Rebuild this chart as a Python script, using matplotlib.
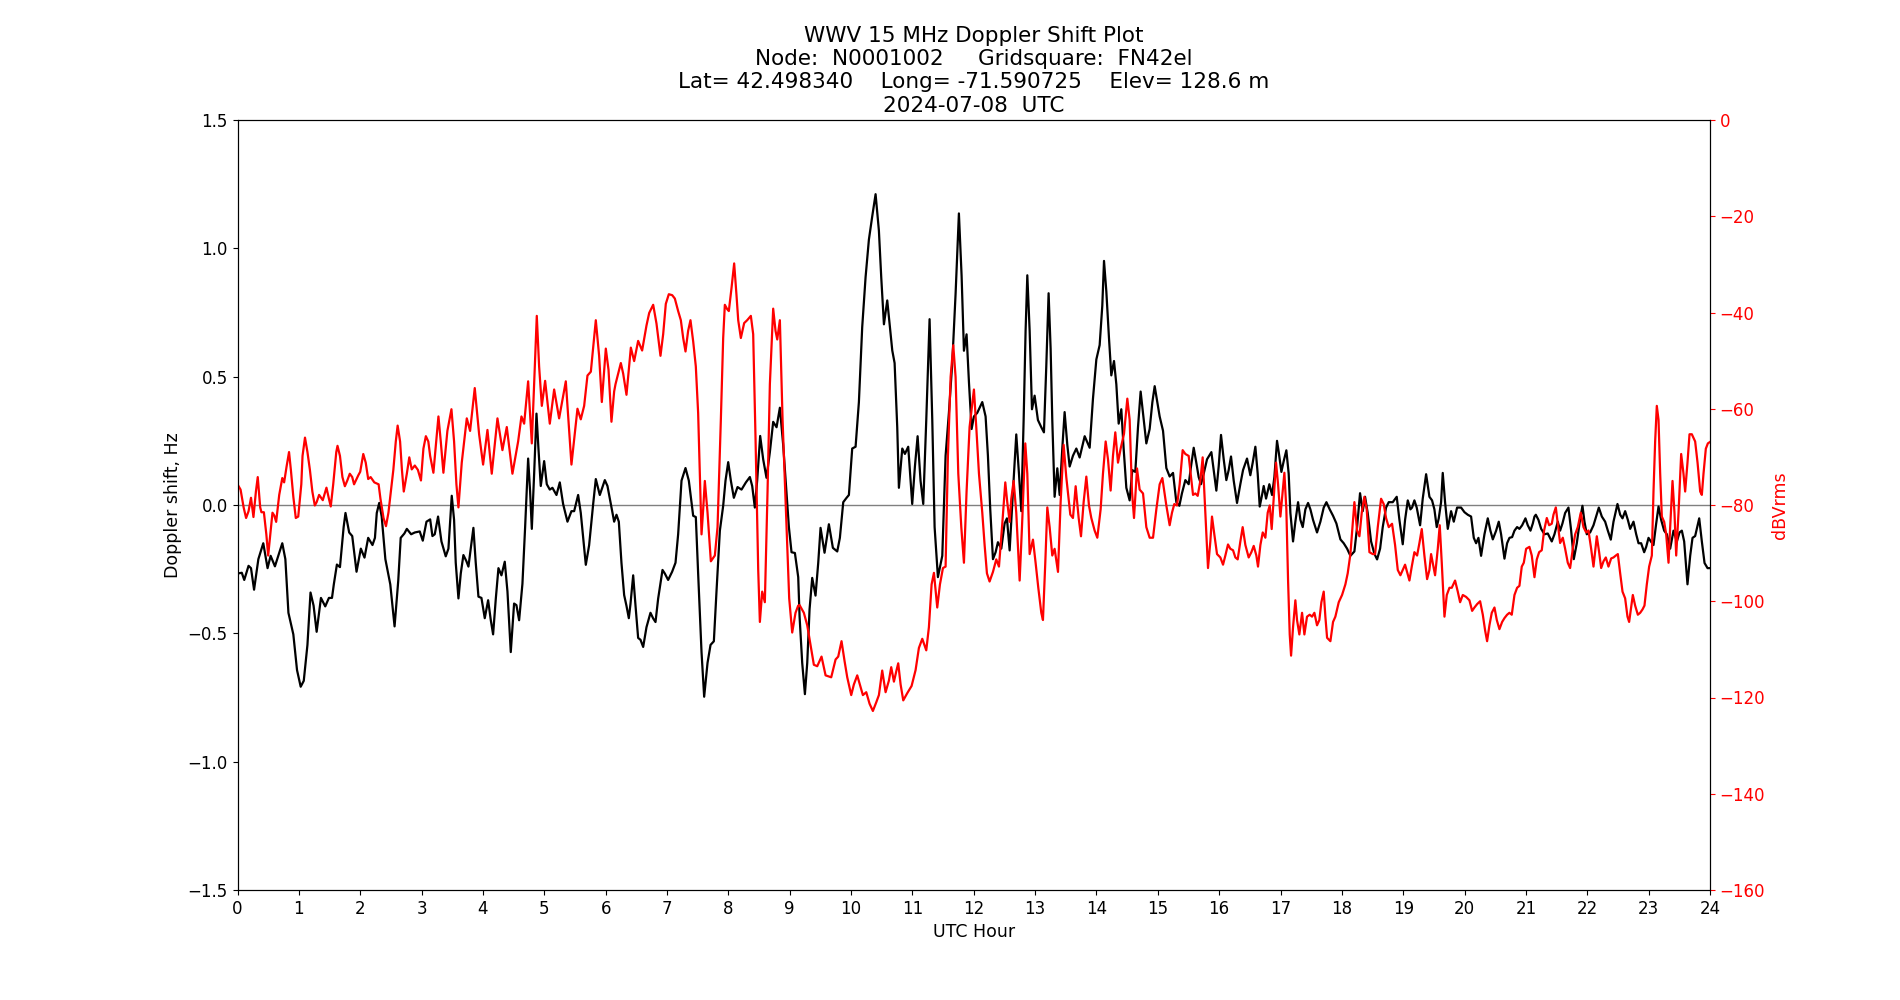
import matplotlib
matplotlib.use("Agg")
import matplotlib.pyplot as plt

# Doppler shift (Hz) vs UTC hour
dop_hour = [
    0.00, 0.07, 0.11, 0.18, 0.22, 0.27, 0.34, 0.42, 0.49, 0.54, 0.61, 0.73, 0.78, 0.83, 0.87, 0.91,
    0.97, 1.03, 1.08, 1.14, 1.19, 1.24, 1.29, 1.36, 1.43, 1.49, 1.54, 1.57, 1.62, 1.67, 1.73, 1.76,
    1.82, 1.87, 1.94, 2.01, 2.07, 2.13, 2.20, 2.24, 2.27, 2.31, 2.35, 2.41, 2.49, 2.56, 2.62, 2.66,
    2.72, 2.76, 2.83, 2.89, 2.97, 3.02, 3.08, 3.14,
    3.177, 3.215, 3.269, 3.324, 3.394, 3.438, 3.492, 3.530, 3.557, 3.601, 3.639, 3.682, 3.731, 3.764,
    3.845, 3.883, 3.927, 3.976, 4.030, 4.085, 4.128, 4.166, 4.210, 4.253, 4.302, 4.356, 4.400, 4.454,
    4.508, 4.546, 4.590, 4.644, 4.688, 4.737, 4.769, 4.797, 4.835, 4.873, 4.905, 4.943, 4.998, 5.041,
    5.090, 5.133, 5.199, 5.253, 5.307, 5.378, 5.443, 5.487, 5.552, 5.595, 5.677, 5.731, 5.797, 5.840,
    5.905, 5.987, 6.030, 6.085, 6.139,
    6.177, 6.215, 6.258, 6.302, 6.340, 6.378, 6.405, 6.449, 6.487, 6.530, 6.568, 6.612, 6.666, 6.731,
    6.775, 6.813, 6.856, 6.927, 6.965, 7.019, 7.084, 7.139, 7.182, 7.237, 7.302, 7.356, 7.427, 7.470,
    7.508, 7.563, 7.606, 7.661, 7.710, 7.764, 7.807, 7.862, 7.916, 7.954, 7.998, 8.041, 8.090, 8.150,
    8.215, 8.286, 8.351, 8.389, 8.432, 8.470, 8.519, 8.568, 8.622, 8.677, 8.731, 8.786, 8.840, 8.894,
    8.938, 8.987, 9.030, 9.085, 9.139,
    9.161, 9.204, 9.248, 9.286, 9.324, 9.367, 9.421, 9.465, 9.503, 9.568, 9.639, 9.704, 9.775, 9.818,
    9.873, 9.927, 9.965, 10.019, 10.074, 10.128, 10.182, 10.237, 10.291, 10.345, 10.400, 10.454,
    10.492, 10.536, 10.590, 10.628, 10.672, 10.710, 10.753, 10.780, 10.835, 10.878, 10.932, 10.997,
    11.041, 11.085, 11.133, 11.177, 11.226, 11.280, 11.324, 11.362, 11.416, 11.487, 11.541, 11.595,
    11.650, 11.704, 11.758, 11.802, 11.840, 11.883, 11.922, 11.965, 12.003, 12.057, 12.139,
    12.193, 12.231, 12.269, 12.313, 12.356, 12.394, 12.449, 12.503, 12.541, 12.585, 12.639, 12.693,
    12.737, 12.775, 12.813, 12.845, 12.873, 12.911, 12.949, 12.992, 13.046, 13.101, 13.144, 13.182,
    13.220, 13.253, 13.280, 13.318, 13.362, 13.400, 13.443, 13.481, 13.525, 13.563, 13.617, 13.672,
    13.726, 13.808, 13.889, 13.943, 13.998, 14.052, 14.095, 14.123, 14.161, 14.204, 14.242, 14.286,
    14.324, 14.362, 14.405, 14.443, 14.487, 14.541, 14.584, 14.633, 14.677, 14.720, 14.758, 14.813,
    14.867, 14.911, 14.949, 14.992, 15.030, 15.085, 15.139,
    15.193, 15.248, 15.302, 15.351, 15.394, 15.449, 15.503, 15.541, 15.585, 15.628, 15.666, 15.704,
    15.748, 15.802, 15.873, 15.911, 15.954, 15.992, 16.030, 16.074, 16.117, 16.155, 16.193, 16.237,
    16.291, 16.345, 16.389, 16.454, 16.508, 16.546, 16.590, 16.628, 16.661, 16.699, 16.726, 16.764,
    16.818, 16.862, 16.900, 16.943, 16.971, 17.014, 17.052, 17.095, 17.133, 17.161, 17.204, 17.242,
    17.286, 17.324, 17.362, 17.405, 17.449, 17.487, 17.530, 17.595, 17.650, 17.704, 17.748, 17.802,
    17.856, 17.911, 17.976, 18.030, 18.085, 18.139,
    18.204, 18.248, 18.296, 18.340, 18.378, 18.421, 18.476, 18.530, 18.574, 18.623, 18.666, 18.720,
    18.764, 18.829, 18.894, 18.938, 18.992, 19.030, 19.074, 19.117, 19.144, 19.182, 19.220, 19.275,
    19.318, 19.373, 19.427, 19.470, 19.508, 19.546, 19.579, 19.617, 19.644, 19.682, 19.726, 19.780,
    19.824, 19.878, 19.943, 19.998, 20.052, 20.106, 20.150, 20.188, 20.226, 20.269, 20.324, 20.378,
    20.421, 20.460, 20.514, 20.557, 20.595, 20.650, 20.693, 20.731, 20.775, 20.813, 20.856, 20.894,
    20.938, 20.992, 21.030, 21.074, 21.112, 21.139,
    21.161, 21.204, 21.248, 21.302, 21.356, 21.421, 21.465, 21.519, 21.557, 21.595, 21.639, 21.693,
    21.737, 21.780, 21.829, 21.873, 21.921, 21.954, 21.992, 22.046, 22.101, 22.144, 22.188, 22.237,
    22.291, 22.335, 22.383, 22.427, 22.492, 22.536, 22.574, 22.617, 22.661, 22.699, 22.753, 22.797,
    22.835, 22.878, 22.927, 22.960, 22.998, 23.036, 23.079, 23.123, 23.161, 23.204, 23.253, 23.297,
    23.351, 23.405, 23.460, 23.503, 23.541, 23.579, 23.633, 23.677, 23.715, 23.758, 23.824, 23.867,
    23.911, 23.960, 23.992,
]
dop_hz = [
    -0.267, -0.264, -0.292, -0.237, -0.246, -0.330, -0.211, -0.149, -0.246, -0.198, -0.239, -0.149,
    -0.211, -0.420, -0.462, -0.504, -0.643, -0.708, -0.685, -0.545, -0.341, -0.392, -0.494, -0.362,
    -0.395, -0.362, -0.362, -0.309, -0.232, -0.242, -0.086, -0.031, -0.107, -0.121, -0.260, -0.170,
    -0.205, -0.128, -0.156, -0.128, -0.031, 0.008, -0.045, -0.211, -0.309, -0.473, -0.295, -0.128,
    -0.111, -0.093, -0.114, -0.107, -0.103, -0.139, -0.065, -0.056,
    -0.121, -0.114, -0.045, -0.142, -0.200, -0.170, 0.036, -0.058, -0.225, -0.364, -0.267, -0.195,
    -0.219, -0.240, -0.089, -0.225, -0.357, -0.362, -0.441, -0.371, -0.448, -0.504, -0.365, -0.246,
    -0.274, -0.221, -0.337, -0.573, -0.384, -0.390, -0.449, -0.307, -0.086, 0.181, 0.053, -0.093,
    0.122, 0.356, 0.220, 0.074, 0.171, 0.081, 0.060, 0.067, 0.039, 0.088, 0.004, -0.065, -0.024,
    -0.024, 0.039, -0.031, -0.233, -0.157, 0.004, 0.101, 0.039, 0.097, 0.074, 0.004, -0.065,
    -0.038, -0.065, -0.225, -0.351, -0.393, -0.441, -0.386, -0.274, -0.392, -0.518, -0.525, -0.553,
    -0.476, -0.420, -0.442, -0.456, -0.365, -0.253, -0.267, -0.292, -0.260, -0.225, -0.114, 0.095,
    0.144, 0.095, -0.042, -0.047, -0.267, -0.573, -0.747, -0.615, -0.545, -0.531, -0.337, -0.100,
    -0.003, 0.095, 0.167, 0.095, 0.028, 0.070, 0.060, 0.088, 0.109, 0.074, -0.010, 0.095, 0.269,
    0.178, 0.106, 0.206, 0.324, 0.303, 0.379, 0.234, 0.081, -0.086, -0.184, -0.187, -0.281,
    -0.434, -0.615, -0.737, -0.615, -0.406, -0.284, -0.353, -0.226, -0.089, -0.186, -0.075, -0.167,
    -0.181, -0.128, 0.011, 0.028, 0.039, 0.220, 0.227, 0.401, 0.693, 0.888, 1.034, 1.124, 1.211,
    1.069, 0.888, 0.704, 0.797, 0.707, 0.602, 0.553, 0.303, 0.067, 0.220, 0.199, 0.227, 0.004,
    0.150, 0.268, 0.094, 0.004, 0.331, 0.724, 0.331, -0.086, -0.281, -0.198, 0.192, 0.359, 0.554,
    0.823, 1.136, 0.893, 0.601, 0.665, 0.477, 0.296, 0.345, 0.359, 0.401,
    0.345, 0.192, -0.017, -0.211, -0.184, -0.145, -0.170, -0.072, -0.052, -0.177, 0.053, 0.275,
    0.122, -0.024, 0.331, 0.679, 0.895, 0.679, 0.373, 0.426, 0.331, 0.303, 0.283, 0.539, 0.825,
    0.609, 0.331, 0.032, 0.143, 0.039, 0.220, 0.362, 0.234, 0.150, 0.192, 0.220, 0.185, 0.268,
    0.223, 0.414, 0.567, 0.623, 0.776, 0.951, 0.832, 0.651, 0.505, 0.561, 0.470, 0.317, 0.373,
    0.220, 0.067, 0.018, 0.136, 0.129, 0.303, 0.442, 0.359, 0.240, 0.296, 0.400, 0.463, 0.400,
    0.345, 0.289, 0.144,
    0.111, 0.125, 0.011, -0.003, 0.046, 0.097, 0.081, 0.150, 0.223, 0.164, 0.109, 0.081, 0.122,
    0.178, 0.206, 0.136, 0.056, 0.150, 0.273, 0.178, 0.097, 0.136, 0.189, 0.095, 0.008, 0.081,
    0.136, 0.181, 0.116, 0.164, 0.227, 0.122, -0.006, 0.039, 0.074, 0.025, 0.081, 0.039, 0.109,
    0.250, 0.206, 0.129, 0.171, 0.213, 0.122, -0.031, -0.142, -0.065, 0.011, -0.058, -0.086,
    -0.017, 0.008, -0.017, -0.058, -0.107, -0.065, -0.010, 0.011, -0.017, -0.042, -0.072, -0.134,
    -0.149, -0.170, -0.198,
    -0.181, -0.086, 0.046, -0.024, 0.032, -0.031, -0.142, -0.190, -0.212, -0.170, -0.086, -0.010,
    0.011, 0.011, 0.032, -0.058, -0.153, -0.058, 0.018, -0.017, -0.010, 0.018, -0.010, -0.079,
    0.025, 0.120, 0.032, 0.018, -0.017, -0.086, -0.052, 0.011, 0.125, 0.011, -0.093, -0.024,
    -0.065, -0.010, -0.010, -0.028, -0.038, -0.045, -0.128, -0.149, -0.128, -0.198, -0.114, -0.052,
    -0.100, -0.134, -0.100, -0.065, -0.114, -0.209, -0.149, -0.128, -0.125, -0.100, -0.086, -0.093,
    -0.079, -0.052, -0.079, -0.100, -0.072, -0.045,
    -0.038, -0.058, -0.093, -0.114, -0.111, -0.142, -0.114, -0.065, -0.100, -0.072, -0.031, -0.010,
    -0.100, -0.211, -0.149, -0.072, -0.003, -0.065, -0.114, -0.107, -0.079, -0.045, -0.010, -0.045,
    -0.065, -0.100, -0.135, -0.065, 0.004, -0.038, -0.052, -0.024, -0.058, -0.093, -0.065, -0.114,
    -0.149, -0.149, -0.184, -0.163, -0.128, -0.142, -0.156, -0.072, -0.006, -0.058, -0.100, -0.114,
    -0.170, -0.100, -0.142, -0.107, -0.100, -0.142, -0.309, -0.198, -0.128, -0.121, -0.052, -0.142,
    -0.226, -0.246, -0.246,
]

# Signal level (dBVrms) vs UTC hour
lvl_hour = [
    0.00, 0.05, 0.10, 0.14, 0.18, 0.22, 0.26, 0.30, 0.33, 0.37, 0.39, 0.43, 0.47, 0.50, 0.54, 0.57,
    0.60, 0.63, 0.68, 0.73, 0.76, 0.80, 0.84, 0.87, 0.91, 0.95, 0.99, 1.04, 1.06, 1.10, 1.14, 1.18,
    1.22, 1.26, 1.29, 1.33, 1.39, 1.45, 1.49, 1.52, 1.56, 1.61, 1.63, 1.67, 1.71, 1.75, 1.79, 1.83,
    1.87, 1.90, 1.97, 2.00, 2.05, 2.09, 2.13, 2.17, 2.23, 2.30, 2.33, 2.38, 2.42, 2.46, 2.50, 2.54,
    2.58, 2.61, 2.65, 2.68, 2.71, 2.76, 2.80, 2.84, 2.89, 2.94, 2.99, 3.03, 3.07, 3.11, 3.14,
    3.193, 3.275, 3.313, 3.356, 3.421, 3.487, 3.530, 3.568, 3.601, 3.655, 3.737, 3.791, 3.867, 3.938,
    4.003, 4.074, 4.144, 4.237, 4.318, 4.389, 4.481, 4.574, 4.628, 4.672, 4.737, 4.797, 4.835, 4.878,
    4.916, 4.960, 5.014, 5.090, 5.161, 5.242, 5.351, 5.443, 5.541, 5.595, 5.650, 5.704, 5.759, 5.840,
    5.894, 5.938, 6.003, 6.047, 6.095, 6.139,
    6.161, 6.248, 6.286, 6.340, 6.411, 6.465, 6.530, 6.595, 6.666, 6.710, 6.775, 6.829, 6.894, 6.938,
    6.981, 7.030, 7.085, 7.128, 7.182, 7.226, 7.264, 7.302, 7.345, 7.383, 7.427, 7.470, 7.508, 7.536,
    7.563, 7.590, 7.617, 7.661, 7.715, 7.780, 7.824, 7.878, 7.916, 7.943, 7.981, 8.008, 8.052, 8.095,
    8.133, 8.161, 8.204, 8.258, 8.307, 8.367, 8.405, 8.443, 8.487, 8.514, 8.552, 8.595, 8.639, 8.677,
    8.731, 8.769, 8.797, 8.840, 8.884, 8.949, 8.992, 9.041, 9.095, 9.139,
    9.161, 9.231, 9.286, 9.340, 9.394, 9.449, 9.519, 9.585, 9.677, 9.748, 9.791, 9.845, 9.894, 9.938,
    10.003, 10.046, 10.101, 10.155, 10.193, 10.248, 10.302, 10.356, 10.411, 10.454, 10.508, 10.563,
    10.617, 10.655, 10.699, 10.742, 10.769, 10.808, 10.851, 10.916, 10.987, 11.052, 11.106, 11.161,
    11.226, 11.269, 11.313, 11.351, 11.405, 11.449, 11.498, 11.541, 11.579, 11.623, 11.666, 11.704,
    11.748, 11.797, 11.840, 11.883, 11.932, 12.003, 12.041, 12.085, 12.139,
    12.177, 12.215, 12.258, 12.313, 12.367, 12.411, 12.465, 12.514, 12.546, 12.585, 12.612, 12.650,
    12.693, 12.748, 12.786, 12.840, 12.873, 12.911, 12.965, 13.008, 13.052, 13.101, 13.128, 13.166,
    13.199, 13.237, 13.280, 13.318, 13.373, 13.416, 13.465, 13.508, 13.574, 13.617, 13.661, 13.710,
    13.748, 13.791, 13.835, 13.878, 13.916, 13.970, 14.014, 14.068, 14.106, 14.150, 14.188, 14.231,
    14.269, 14.307, 14.351, 14.394, 14.449, 14.503, 14.541, 14.579, 14.612, 14.661, 14.704, 14.759,
    14.813, 14.867, 14.922, 14.976, 15.030, 15.074, 15.139,
    15.193, 15.231, 15.269, 15.313, 15.356, 15.405, 15.449, 15.503, 15.541, 15.574, 15.612, 15.650,
    15.693, 15.731, 15.775, 15.818, 15.856, 15.883, 15.921, 15.965, 16.019, 16.063, 16.101, 16.144,
    16.182, 16.226, 16.264, 16.302, 16.345, 16.383, 16.427, 16.481, 16.525, 16.563, 16.606, 16.633,
    16.672, 16.710, 16.753, 16.791, 16.824, 16.856, 16.889, 16.927, 16.960, 16.998, 17.036, 17.063,
    17.095, 17.123, 17.150, 17.172, 17.204, 17.242, 17.269, 17.307, 17.351, 17.389, 17.432, 17.476,
    17.514, 17.552, 17.595, 17.633, 17.666, 17.704, 17.731, 17.759, 17.813, 17.856, 17.894, 17.949,
    18.003, 18.057, 18.095, 18.139,
    18.204, 18.248, 18.286, 18.324, 18.367, 18.405, 18.449, 18.503, 18.541, 18.585, 18.639, 18.682,
    18.720, 18.764, 18.818, 18.867, 18.911, 18.954, 18.992, 19.030, 19.063, 19.101, 19.139, 19.182,
    19.226, 19.264, 19.302, 19.345, 19.389, 19.427, 19.454, 19.492, 19.519, 19.563, 19.595, 19.628,
    19.672, 19.710, 19.753, 19.791, 19.845, 19.889, 19.927, 19.971, 20.025, 20.079, 20.123, 20.161,
    20.204, 20.253, 20.297, 20.335, 20.367, 20.405, 20.443, 20.487, 20.525, 20.568, 20.612, 20.650,
    20.693, 20.731, 20.769, 20.813, 20.856, 20.894, 20.932, 20.965, 21.003, 21.057, 21.095, 21.139,
    21.177, 21.215, 21.258, 21.296, 21.340, 21.378, 21.421, 21.449, 21.487, 21.519, 21.557, 21.601,
    21.639, 21.682, 21.720, 21.764, 21.802, 21.845, 21.894, 21.938, 21.981, 22.019, 22.063, 22.101,
    22.155, 22.193, 22.226, 22.264, 22.302, 22.345, 22.389, 22.427, 22.465, 22.498, 22.536, 22.574,
    22.617, 22.655, 22.682, 22.710, 22.742, 22.780, 22.824, 22.862, 22.900, 22.932, 22.970, 23.008,
    23.052, 23.079, 23.106, 23.133, 23.161, 23.188, 23.215, 23.253, 23.286, 23.324, 23.351, 23.389,
    23.421, 23.449, 23.487, 23.530, 23.568, 23.595, 23.633, 23.666, 23.704, 23.758, 23.797, 23.840,
    23.867, 23.894, 23.932, 23.965, 24.000,
]
lvl_db = [
    -75.7, -76.8, -80.5, -82.7, -81.3, -78.5, -82.5, -77.2, -74.2, -80.5, -81.5, -81.5, -86.1,
    -90.5, -85.3, -81.6, -82.2, -83.5, -77.9, -74.4, -75.3, -72.0, -69.0, -72.7, -78.3, -82.7,
    -82.4, -75.7, -69.8, -66.0, -69.0, -72.7, -77.2, -80.1, -79.4, -77.9, -79.0, -76.4, -78.7,
    -80.3, -75.7, -69.0, -67.7, -69.8, -74.2, -76.1, -74.9, -73.5, -74.2, -75.7, -73.8, -73.1,
    -69.4, -71.2, -74.6, -74.2, -75.3, -75.7, -78.7, -82.7, -84.4, -81.6, -77.2, -72.7, -66.8,
    -63.5, -66.8, -72.7, -77.2, -73.5, -70.1, -72.6, -71.8, -72.7, -74.9, -68.3, -65.7, -66.8,
    -69.8,
    -73.3, -61.6, -66.8, -73.3, -64.6, -60.1, -66.8, -75.7, -80.5, -71.2, -62.0, -64.6, -55.7,
    -65.3, -71.6, -64.4, -73.5, -62.0, -68.6, -63.8, -73.5, -66.8, -61.6, -63.1, -54.3, -67.2,
    -54.9, -40.7, -51.2, -59.4, -54.2, -63.1, -56.0, -62.0, -54.3, -71.6, -60.0, -62.2, -59.4,
    -53.1, -52.3, -41.6, -49.0, -58.6, -47.5, -51.9, -62.7, -56.4,
    -54.9, -50.5, -52.7, -57.1, -47.3, -50.1, -45.9, -47.9, -42.7, -40.1, -38.4, -42.3, -49.0,
    -44.5, -38.2, -36.2, -36.4, -37.1, -39.7, -41.6, -45.3, -48.1, -43.8, -41.6, -46.0, -51.2,
    -60.9, -73.5, -86.1, -80.9, -75.0, -81.6, -91.7, -90.5, -84.6, -62.3, -45.3, -38.4, -39.3,
    -39.7, -34.9, -29.8, -36.4, -41.6, -45.3, -42.2, -41.6, -40.7, -44.5, -66.0, -93.5, -104.3,
    -98.0, -100.2, -77.2, -54.9, -39.2, -43.8, -45.6, -41.6, -62.3, -84.6, -99.4, -106.5, -102.4,
    -100.9,
    -100.8, -102.4, -105.0, -109.1, -113.2, -113.5, -111.5, -115.4, -115.8, -112.1, -111.5, -108.3,
    -112.4, -115.8, -119.5, -117.3, -115.4, -117.8, -119.5, -118.9, -121.3, -122.8, -121.0, -119.5,
    -114.4, -118.9, -116.5, -113.7, -116.7, -114.3, -112.9, -117.3, -120.6, -119.1, -117.6, -114.3,
    -109.7, -107.8, -110.2, -105.4, -96.5, -94.1, -101.3, -96.5, -93.1, -92.8, -69.8, -53.4,
    -46.8, -53.4, -73.5, -84.6, -92.0, -77.2, -63.8, -56.0, -63.8, -73.5, -81.6,
    -88.3, -94.2, -95.9, -93.9, -91.3, -92.8, -83.9, -75.3, -79.4, -83.5, -78.7, -75.0, -81.6,
    -95.7, -84.6, -67.2, -73.5, -90.2, -87.2, -92.0, -97.2, -102.4, -103.9, -92.0, -80.5, -84.6,
    -90.5, -89.1, -93.9, -79.4, -67.5, -74.2, -82.0, -82.7, -76.1, -82.7, -86.5, -79.4, -74.1,
    -80.1, -82.7, -85.3, -86.8, -80.9, -73.5, -66.8, -70.5, -77.0, -69.8, -64.9, -71.2, -68.3,
    -65.2, -57.9, -62.3, -77.2, -82.7, -72.4, -76.8, -77.6, -84.6, -86.8, -86.8, -80.9, -75.7,
    -74.4, -80.1,
    -84.2, -81.6, -79.8, -80.1, -75.7, -68.6, -69.4, -69.8, -74.2, -77.9, -77.6, -78.1, -75.0,
    -70.1, -81.6, -93.1, -87.6, -82.4, -86.1, -90.2, -90.9, -92.4, -90.5, -88.2, -89.1, -89.4,
    -90.9, -91.3, -87.6, -84.6, -88.3, -90.9, -89.8, -88.5, -90.5, -92.8, -88.3, -85.7, -86.8,
    -81.6, -80.1, -85.0, -78.7, -71.2, -75.7, -82.4, -77.2, -73.3, -80.9, -95.7, -106.9, -111.3,
    -105.4, -99.8, -103.9, -106.9, -102.4, -106.9, -103.2, -102.8, -103.2, -102.4, -105.0, -103.9,
    -100.2, -98.0, -103.2, -107.6, -108.3, -104.3, -103.2, -100.2, -98.7, -96.5, -94.2, -90.2,
    -79.4, -85.3, -86.5, -81.6, -78.3, -80.9, -89.8, -90.2, -90.2, -84.6, -78.7, -79.8, -82.7,
    -84.6, -83.9, -88.3, -93.5, -94.6, -93.5, -92.4, -93.9, -95.7, -92.8, -89.8, -90.5, -87.9,
    -85.0, -90.5, -95.4, -93.5, -90.2, -92.8, -94.6, -89.1, -84.2, -92.0, -103.2, -98.7, -97.2,
    -97.2, -95.7, -98.0, -100.2, -98.7, -99.1, -99.8, -102.0, -101.3, -100.6, -100.0, -102.8,
    -106.1, -108.3, -105.0, -102.4, -101.3, -103.9, -105.8, -104.3, -103.5, -102.8, -102.4, -102.8,
    -98.7, -97.2, -96.8, -92.8, -92.0, -89.1, -88.7, -90.5, -95.0,
    -91.3, -89.8, -89.4, -85.3, -82.7, -84.2, -83.9, -82.0, -80.5, -83.9, -87.9, -86.8, -89.1,
    -92.0, -93.1, -89.1, -86.1, -84.6, -81.6, -84.6, -85.7, -85.3, -89.1, -92.8, -86.5, -89.8,
    -93.1, -91.7, -90.9, -92.8, -91.1, -90.9, -90.5, -90.2, -94.2, -98.0, -99.4, -103.2, -104.3,
    -101.7, -98.7, -100.9, -102.8, -102.4, -101.7, -100.9, -96.5, -92.8, -90.5, -77.2, -66.8,
    -59.4, -62.3, -73.5, -82.4, -83.5, -86.1, -92.0, -84.6, -75.0, -81.6, -90.5, -81.6, -69.4,
    -73.5, -77.2, -71.2, -65.3, -65.3, -66.8, -71.2, -77.2, -77.9, -73.5, -68.3, -67.2, -66.9,
]

title = ("WWV 15 MHz Doppler Shift Plot\n"
         "Node:  N0001002     Gridsquare:  FN42el\n"
         "Lat= 42.498340    Long= -71.590725    Elev= 128.6 m\n"
         "2024-07-08  UTC")

fig, ax = plt.subplots(figsize=(19, 10), dpi=100)
ax2 = ax.twinx()

ax.axhline(0, color="grey", linewidth=1)
ax.plot(dop_hour, dop_hz, color="black", linewidth=1.6)
ax2.plot(lvl_hour, lvl_db, color="red", linewidth=1.6)

ax.set_xlim(0, 24)
ax.set_xticks(range(25))
ax.set_ylim(-1.5, 1.5)
ax.set_yticks([-1.5, -1.0, -0.5, 0.0, 0.5, 1.0, 1.5])
ax2.set_ylim(-160, 0)
ax2.set_yticks(range(-160, 1, 20))
ax2.tick_params(axis="y", colors="red", labelsize=12)
ax2.spines["right"].set_color("black")
ax.tick_params(labelsize=12)

ax.set_xlabel("UTC Hour", fontsize=12.5)
ax.set_ylabel("Doppler shift, Hz", fontsize=12.5)
ax2.set_ylabel("dBVrms", color="red", fontsize=12.5)
ax.set_title(title, fontsize=15.5)

fig.savefig("out.png")
